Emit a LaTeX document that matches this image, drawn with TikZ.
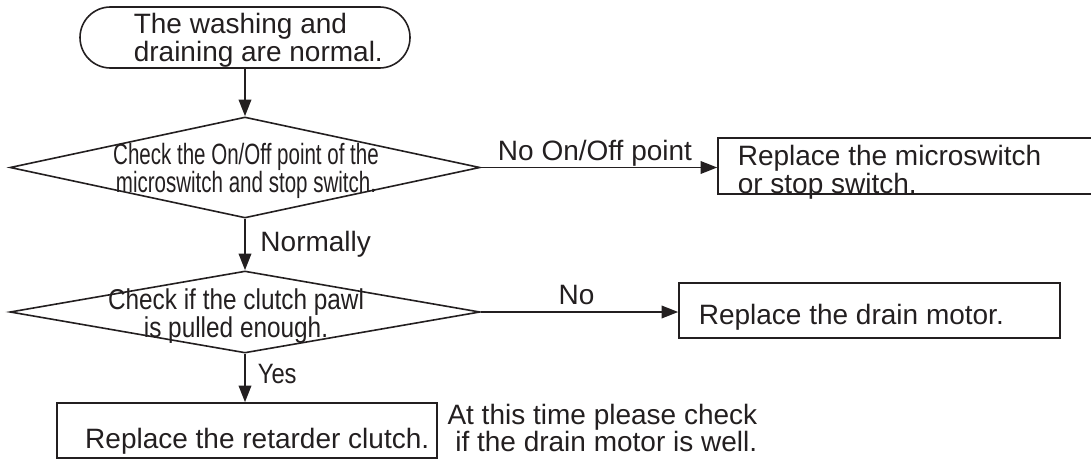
\documentclass[tikz,border=0pt]{standalone}
\usepackage{fontspec}
\setmainfont{Liberation Sans}
\newfontfamily\narrowfont{Liberation Sans}[FakeStretch=0.7]
\newfontfamily\condfont{Liberation Sans}[FakeStretch=0.85]
\usetikzlibrary{shapes.geometric,shapes.misc,arrows.meta}
\definecolor{ink}{RGB}{35,31,32}

\tikzset{every picture/.style={line width=1.2pt}}
\tikzset{
  flow/.style={draw=ink, -{Triangle[length=12.5pt,width=9.5pt]}},
  terminal/.style={draw=ink, rounded rectangle, inner sep=0pt},
  decision/.style={draw=ink, diamond, inner sep=0pt, minimum width=352.5pt},
  action/.style={draw=ink, rectangle, inner sep=0pt, minimum height=41.25pt},
  body/.style={text=ink, inner sep=0pt, font=\fontsize{21}{21}\selectfont},
  cond/.style={text=ink, inner sep=0pt, font=\condfont\fontsize{21.5}{17.25}\selectfont},
  narrow/.style={text=ink, inner sep=0pt, font=\narrowfont\fontsize{22}{17.25}\selectfont},
}

\begin{document}
\begin{tikzpicture}[x=0.75pt,y=0.75pt,yscale=-1,xscale=1]
\useasboundingbox (0,0) rectangle (1091,460);

% Terminal
\node [terminal, minimum width=247.5pt, minimum height=45.75pt] (start) at (245,37.5) {};
\node [body, anchor=west, align=left] (startTxt) at (133,40.5) {The washing and\\draining are normal.};

% Decision
\node [decision, minimum height=75.75pt] (chkSwitch) at (245,167.5) {};
\node [narrow, align=center] (chkSwitchTxt) at (246,171) {Check the On/Off point of the\\microswitch and stop switch.};

% Decision
\node [decision, minimum height=61.5pt] (chkPawl) at (245,312) {};
\node [cond, align=center] (chkPawlTxt) at (236,316.2) {Check if the clutch pawl\\is pulled enough.};

% Action
\node [action, minimum width=282.75pt, minimum height=42pt] (repSwitch) at (906.5,166) {};
\node [body, anchor=west, align=left] (repSwitchTxt) at (737,172) {Replace the microswitch\\or stop switch.};

% Action
\node [action, minimum width=285.75pt] (repMotor) at (869.5,310.5) {};
\node [body, anchor=base west] (repMotorTxt) at (698,324) {Replace the drain motor.};

% Action
\node [action, minimum width=285pt] (repClutch) at (247,430.5) {};
\node [body, anchor=base east] (repClutchTxt) at (430,448) {Replace the retarder clutch.};

% Text Node
\node [body, anchor=east, align=right, font=\fontsize{21}{19.5}\selectfont] (note) at (758,428) {At this time please check\\if the drain motor is well.};

% Connection
\draw [flow] (start) -- (chkSwitch);
% Connection
\draw [flow] (chkSwitch.east) -- (chkSwitch.east -| repSwitch.west)
  node [body, pos=0.483, above] (lblNoPoint) {No On/Off point};
% Connection
\draw [flow] (chkSwitch) -- (chkPawl)
  node [body, pos=0.5, right, inner xsep=11pt] (lblNormally) {Normally};
% Connection
\draw [flow] (chkPawl.east) -- (chkPawl.east -| repMotor.west)
  node [body, pos=0.485, above, inner sep=5pt] (lblNo) {No};
% Connection
\draw [flow] (chkPawl.south) -- (chkPawl.south |- repClutch.north)
  node [cond, font=\condfont\fontsize{21}{21}\selectfont, pos=0.41, right, inner xsep=9pt] (lblYes) {Yes};

\end{tikzpicture}
\end{document}
